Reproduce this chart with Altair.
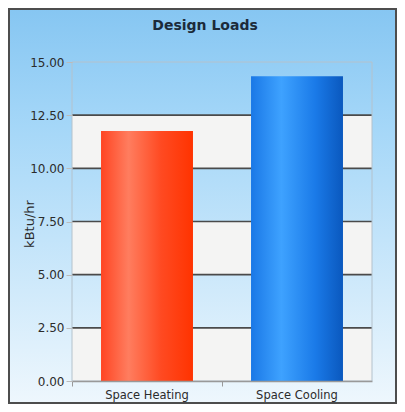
import altair as alt
import pandas as pd

# ---- data ----
chart_title = "Design Loads"
categories = ["Space Heating", "Space Cooling"]
loads = [11.75, 14.33]
band_low = [0, 5, 10]
band_high = [2.5, 7.5, 12.5]
grid_values = [2.5, 5, 7.5, 10, 12.5]
tick_values = [0, 2.5, 5, 7.5, 10, 12.5, 15]

FONT = "DejaVu Sans"
W, H = 300, 319

bars_df = pd.DataFrame({"category": categories, "load": loads})
bands_df = pd.DataFrame({"lo": band_low, "hi": band_high})
grid_df = pd.DataFrame({"v": grid_values})

xscale = alt.Scale(domain=categories, paddingInner=0.387, paddingOuter=0.1935)
yscale = alt.Scale(domain=[0, 15], nice=False)

bg_grad = alt.LinearGradient(
    gradient="linear", x1=0, x2=0, y1=0, y2=1,
    stops=[alt.GradientStop(color="#86c6f2", offset=0),
           alt.GradientStop(color="#a5d7f8", offset=0.3),
           alt.GradientStop(color="#eef7fd", offset=1)])

background = alt.Chart(alt.Data(values=[{}])).mark_rect(
    fill=bg_grad, stroke="#4d4d4d", strokeWidth=2
).encode(x=alt.value(-63), x2=alt.value(W + 24), y=alt.value(-53), y2=alt.value(H + 22))

title = alt.Chart(alt.Data(values=[{"t": chart_title}])).mark_text(
    font=FONT, fontSize=14, fontWeight="bold", color="#1c2b3a",
    align="center", baseline="alphabetic"
).encode(text="t:N", x=alt.value(W / 2 - 17), y=alt.value(-32))

bands = alt.Chart(bands_df).mark_rect(fill="#f4f4f3").encode(
    y=alt.Y("lo:Q", scale=yscale), y2="hi:Q",
    x=alt.value(0), x2=alt.value(W))

grid = alt.Chart(grid_df).mark_rule(color="#4a4a4a", strokeWidth=1.6).encode(
    y=alt.Y("v:Q", scale=yscale), x=alt.value(0), x2=alt.value(W))

frame = alt.Chart(alt.Data(values=[{}])).mark_rect(
    fill="transparent", stroke="#b4c2cc", strokeWidth=1
).encode(x=alt.value(0), x2=alt.value(W), y=alt.value(0), y2=alt.value(H))

red_grad = alt.LinearGradient(
    gradient="linear", x1=0, x2=1, y1=0, y2=0,
    stops=[alt.GradientStop(color="#ff4522", offset=0),
           alt.GradientStop(color="#ff7d5f", offset=0.3),
           alt.GradientStop(color="#ff4a22", offset=0.65),
           alt.GradientStop(color="#ff3300", offset=1)])
blue_grad = alt.LinearGradient(
    gradient="linear", x1=0, x2=1, y1=0, y2=0,
    stops=[alt.GradientStop(color="#1a78e6", offset=0),
           alt.GradientStop(color="#3ea2ff", offset=0.33),
           alt.GradientStop(color="#1a7ae8", offset=0.7),
           alt.GradientStop(color="#0a58be", offset=1)])

xenc = alt.X("category:N", scale=xscale, sort=categories,
             axis=alt.Axis(title=None, labelAngle=0, bandPosition=-0.315, tickSize=5,
                           tickColor="#999999", domainColor="#999999", domainWidth=1.5,
                           labelFont=FONT, labelFontSize=11.5, labelColor="#2b2b2b",
                           labelPadding=3, zindex=1))
yenc = alt.Y("load:Q", scale=yscale,
             axis=alt.Axis(title="kBtu/hr", values=tick_values, format=".2f",
                           grid=False, domain=False, tickSize=6, tickColor="#bbbbbb",
                           labelFont=FONT, labelFontSize=12, labelColor="#2b2b2b",
                           labelPadding=2, titleFont=FONT, titleFontSize=13,
                           titleFontWeight="normal", titleColor="#2b2b2b",
                           titleAngle=-90, titleX=-43, titleY=H / 2 + 2,
                           titleAlign="center", titleBaseline="middle", zindex=1))

heat = alt.Chart(bars_df).transform_filter(
    alt.datum.category == categories[0]).mark_bar(fill=red_grad).encode(x=xenc, y=yenc)
cool = alt.Chart(bars_df).transform_filter(
    alt.datum.category == categories[1]).mark_bar(fill=blue_grad).encode(x=xenc, y=yenc)

chart = alt.layer(background, title, bands, grid, frame, heat, cool).properties(
    width=W, height=H,
    autosize="none",
    padding={"left": 64, "top": 54, "right": 25, "bottom": 23},
).configure_view(stroke=None)

chart.save("out.html", embed_options={"renderer": "svg", "actions": False})
